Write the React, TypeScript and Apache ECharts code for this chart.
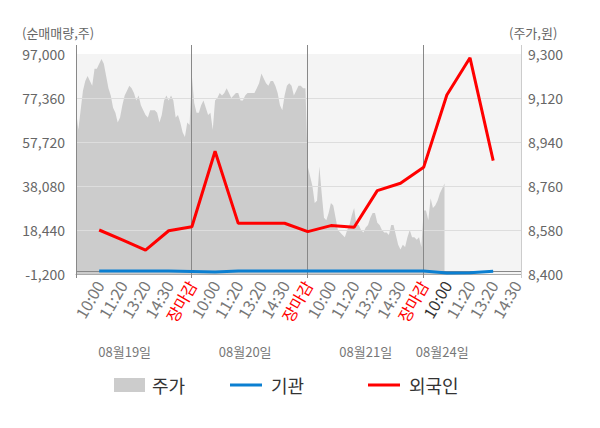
import React, { useEffect, useRef } from 'react';
import * as echarts from 'echarts';

// ---- data ----
const dayNames = ['08월19일', '08월20일', '08월21일', '08월24일'];
const slotLabels = ['10:00', '11:20', '13:20', '14:30', '장마감'];
const dayLabelIdx = [21, 73, 125, 158];
const CATEGORY_COUNT = 193;
const daySeparatorIdx = [0, 50, 100, 150];

// 주가 (right axis, won), one value per category
const priceDay1 = [
  9070, 8990, 9070, 9150, 9190, 9210, 9190, 9170, 9240, 9240,
  9260, 9280, 9260, 9210, 9160, 9130, 9080, 9060, 9020, 9040,
  9090, 9130, 9150, 9170, 9160, 9140, 9110, 9130, 9090, 9070,
  9050, 9040, 9070, 9070, 9070, 9060, 9020, 9050, 9110, 9130,
  9110, 9130, 9110, 9040, 9050, 9020, 8980, 8960, 9020, 9010,
];
const priceDay2 = [
  9210, 9100, 9060, 9060, 9090, 9110, 9080, 9050, 9060, 8990,
  9110, 9120, 9140, 9130, 9140, 9160, 9140, 9120, 9130, 9140,
  9140, 9110, 9110, 9130, 9140, 9140, 9140, 9140, 9160, 9180,
  9220, 9200, 9180, 9170, 9190, 9190, 9170, 9140, 9090, 9070,
  9130, 9170, 9180, 9170, 9130, 9150, 9170, 9170, 9160, 9160,
];
const priceDay3 = [
  8840, 8800, 8760, 8690, 8700, 8840, 8730, 8630, 8620, 8650,
  8690, 8680, 8630, 8580, 8570, 8560, 8550, 8580, 8600, 8640,
  8670, 8600, 8600, 8580, 8570, 8590, 8600, 8630, 8650, 8650,
  8610, 8600, 8580, 8570, 8570, 8560, 8600, 8600, 8560, 8520,
  8500, 8520, 8510, 8550, 8580, 8550, 8550, 8540, 8550, 8510,
];
const priceDay4 = [8660, 8660, 8620, 8710, 8670, 8680, 8700, 8730, 8750, 8770];

// 외국인 / 기관 net volume (left axis, shares) at each labelled slot (index 10, 20, ... 180)
const foreignNet = [
  18440, 14000, 9500, 18100, 19900,
  53600, 21400, 21450, 21450, 17700,
  20400, 19650, 36000, 39300, 46400,
  78700, 95300, 49400,
];
const institNet = [
  100, 100, 100, 100, -100,
  -300, 100, 100, 100, 100,
  100, 100, 100, 100, 100,
  -700, -600, 0,
];

const leftAxis = { min: -1200, max: 97000, interval: 19640 };
const rightAxis = { min: 8400, max: 9300, interval: 180 };

const FONT = '"Noto Sans CJK KR", "Noto Sans", sans-serif';

export default function App() {
  const ref = useRef<HTMLDivElement>(null);

  useEffect(() => {
    if (!ref.current) return;
    const chart = echarts.init(ref.current, undefined, { renderer: 'svg' });

    const categories = Array.from({ length: CATEGORY_COUNT }, (_, i) => `c${i}`);
    const price = [...priceDay1, ...priceDay2, ...priceDay3, ...priceDay4];
    const foreignData = foreignNet.map((v, k) => [10 + k * 10, v]);
    const institData = institNet.map((v, k) => [10 + k * 10, v]);
    const fmt = (v: number) => Math.round(v).toLocaleString('en-US');

    const option: any = {
      animation: false,
      textStyle: { fontFamily: FONT },
      grid: {
        left: 76,
        right: 79,
        top: 54,
        height: 220,
        show: true,
        backgroundColor: '#f4f4f4',
        borderWidth: 0,
      },
      xAxis: [
        {
          type: 'category',
          data: categories,
          boundaryGap: false,
          axisLine: { onZero: false, lineStyle: { color: '#aaaaaa', width: 1 } },
          axisTick: { show: false },
          splitLine: { show: false },
          axisLabel: {
            interval: (i: number) => i > 0 && i % 10 === 0 && i <= 190,
            rotate: 60,
            margin: 8,
            fontSize: 16,
            color: '#777777',
            fontFamily: FONT,
            formatter: (_v: string, i: number) => {
              const k = i / 10;
              const label = slotLabels[(k - 1) % 5];
              if (label === '장마감') return `{close|${label}}`;
              if (i === 160) return `{now|${label}}`;
              return label;
            },
            rich: {
              close: { color: '#ff0000', fontSize: 16, fontFamily: FONT },
              now: { color: '#333333', fontSize: 16, fontFamily: FONT },
            },
          },
        },
        {
          type: 'category',
          data: categories,
          boundaryGap: false,
          position: 'bottom',
          offset: 63,
          axisLine: { show: false },
          axisTick: { show: false },
          splitLine: { show: false },
          axisLabel: {
            interval: (i: number) => dayLabelIdx.indexOf(i) >= 0,
            fontSize: 13,
            color: '#777777',
            fontFamily: FONT,
            formatter: (_v: string, i: number) => dayNames[dayLabelIdx.indexOf(i)] ?? '',
          },
        },
      ],
      yAxis: [
        {
          type: 'value',
          position: 'left',
          min: leftAxis.min,
          max: leftAxis.max,
          interval: leftAxis.interval,
          z: 3,
          axisLine: { show: false },
          axisTick: { show: false },
          axisLabel: { fontSize: 14, color: '#666666', margin: 11, formatter: fmt, fontFamily: FONT },
          splitLine: { show: true, showMaxLine: false, showMinLine: false, lineStyle: { color: '#dddddd', width: 1 } },
        },
        {
          type: 'value',
          position: 'right',
          min: rightAxis.min,
          max: rightAxis.max,
          interval: rightAxis.interval,
          z: 3,
          axisLine: { show: false },
          axisTick: { show: false },
          axisLabel: { fontSize: 14, color: '#666666', margin: 7, formatter: fmt, fontFamily: FONT },
          splitLine: { show: false },
        },
      ],
      legend: [
        {
          data: ['주가'], left: 114, top: 376, padding: 0,
          icon: 'rect', itemWidth: 31, itemHeight: 14,
          textStyle: { fontSize: 18, color: '#333333', fontFamily: FONT, padding: [0, 0, 0, 2] },
        },
        {
          data: ['기관'], left: 230, top: 376, padding: 0,
          icon: 'rect', itemWidth: 32, itemHeight: 3,
          textStyle: { fontSize: 18, color: '#333333', fontFamily: FONT, padding: [0, 0, 0, 4] },
        },
        {
          data: ['외국인'], left: 368, top: 376, padding: 0,
          icon: 'rect', itemWidth: 32, itemHeight: 3,
          textStyle: { fontSize: 18, color: '#333333', fontFamily: FONT, padding: [0, 0, 0, 4] },
        },
      ],
      series: [
        {
          name: '주가',
          type: 'line',
          yAxisIndex: 1,
          data: price,
          symbol: 'none',
          z: 2,
          color: '#cccccc',
          itemStyle: { color: '#cccccc' },
          lineStyle: { width: 0, color: '#cccccc' },
          areaStyle: { color: '#cccccc', opacity: 1, origin: 'start' },
        },
        {
          name: '기관',
          type: 'line',
          yAxisIndex: 0,
          data: institData,
          symbol: 'none',
          z: 10,
          color: '#0b7fd1',
          itemStyle: { color: '#0b7fd1' },
          lineStyle: { width: 3, color: '#0b7fd1' },
          connectNulls: true,
          markLine: {
            silent: true,
            symbol: 'none',
            label: { show: false },
            lineStyle: { color: '#888888', width: 1, type: 'solid' },
            data: [{ yAxis: 0 }],
            z: 9,
          },
        },
        {
          name: '외국인',
          type: 'line',
          yAxisIndex: 0,
          data: foreignData,
          symbol: 'none',
          z: 11,
          color: '#ff0000',
          itemStyle: { color: '#ff0000' },
          lineStyle: { width: 3, color: '#ff0000' },
          connectNulls: true,
        },
      ],
    };

    chart.setOption(option);

    const crisp = (x: number) => Math.round(x - 0.5) + 0.5;
    const elements: any[] = [];
    daySeparatorIdx.forEach((idx) => {
      const x = crisp(chart.convertToPixel({ xAxisIndex: 0 }, idx) as number);
      elements.push({
        type: 'line', z: 5, silent: true,
        shape: { x1: x, y1: 45, x2: x, y2: 278 },
        style: { stroke: '#888888', lineWidth: 1 },
      });
    });
    const xr = crisp(chart.convertToPixel({ xAxisIndex: 0 }, CATEGORY_COUNT - 1) as number);
    elements.push({
      type: 'line', z: 5, silent: true,
      shape: { x1: xr, y1: 45, x2: xr, y2: 278 },
      style: { stroke: '#cccccc', lineWidth: 1 },
    });
    elements.push({
      type: 'text', left: 22, top: 26, silent: true,
      style: { text: '(순매매량,주)', fontSize: 13, fill: '#666666', fontFamily: FONT },
    });
    elements.push({
      type: 'text', left: 509, top: 26, silent: true,
      style: { text: '(주가,원)', fontSize: 13, fill: '#666666', fontFamily: FONT },
    });
    chart.setOption({ graphic: { elements } });

    return () => chart.dispose();
  }, []);

  return (
    <div
      ref={ref}
      style={{ position: 'fixed', left: 0, top: 0, width: 600, height: 428, background: '#ffffff' }}
    />
  );
}
